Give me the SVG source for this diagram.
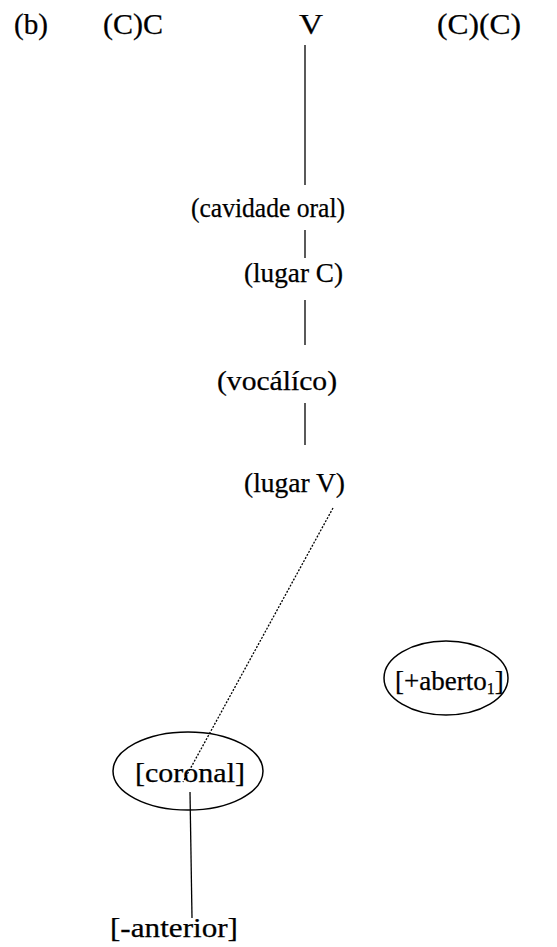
<svg xmlns="http://www.w3.org/2000/svg" width="557" height="947" viewBox="0 0 557 947">
<style>
text{font-family:"Liberation Serif","Times New Roman",serif;font-size:27px;fill:#000;stroke:#000;stroke-width:0.25}
.t{font-size:29px}
.ln{stroke:#000;stroke-width:1.3;fill:none}
.dot{stroke:#000;stroke-width:1.3;fill:none;stroke-dasharray:2 1.5}
.el{stroke:#000;stroke-width:1.5;fill:none}
</style>
<rect width="557" height="947" fill="#fff"/>
<g id="label-b"><text class="t" x="14" y="34" textLength="34" lengthAdjust="spacingAndGlyphs">(b)</text></g>
<g id="node-CC"><text class="t" x="103" y="34" textLength="60" lengthAdjust="spacingAndGlyphs">(C)C</text></g>
<g id="node-V"><text class="t" x="299" y="34" textLength="24" lengthAdjust="spacingAndGlyphs">V</text></g>
<g id="node-CCright"><text class="t" x="437" y="34" textLength="84" lengthAdjust="spacingAndGlyphs">(C)(C)</text></g>
<g id="node-cavidade"><text x="191" y="217" textLength="154" lengthAdjust="spacingAndGlyphs">(cavidade oral)</text></g>
<g id="node-lugarC"><text x="244" y="282" textLength="99" lengthAdjust="spacingAndGlyphs">(lugar C)</text></g>
<g id="node-vocalico"><text x="217" y="390" textLength="120" lengthAdjust="spacingAndGlyphs">(vocálíco)</text></g>
<g id="node-lugarV"><text x="244" y="492" textLength="101" lengthAdjust="spacingAndGlyphs">(lugar V)</text></g>
<g id="node-aberto"><ellipse class="el" cx="446" cy="678" rx="62" ry="37"/><text x="395" y="690">[+aberto<tspan font-size="16" dy="4">1</tspan><tspan dy="-4">]</tspan></text></g>
<g id="node-coronal"><ellipse class="el" cx="188" cy="771" rx="75" ry="39"/><text x="135" y="782" textLength="110" lengthAdjust="spacingAndGlyphs">[coronal]</text></g>
<g id="node-anterior"><text x="110" y="937" textLength="128" lengthAdjust="spacingAndGlyphs">[-anterior]</text></g>
<g id="connectors">
<line class="ln" x1="305" y1="45" x2="305" y2="185"/>
<line class="ln" x1="305" y1="230" x2="305" y2="258"/>
<line class="ln" x1="305" y1="300" x2="305" y2="345"/>
<line class="ln" x1="305" y1="403" x2="305" y2="445"/>
<line class="dot" x1="333" y1="508" x2="183" y2="782"/>
<line class="ln" x1="190" y1="792" x2="192" y2="918"/>
</g>
</svg>
